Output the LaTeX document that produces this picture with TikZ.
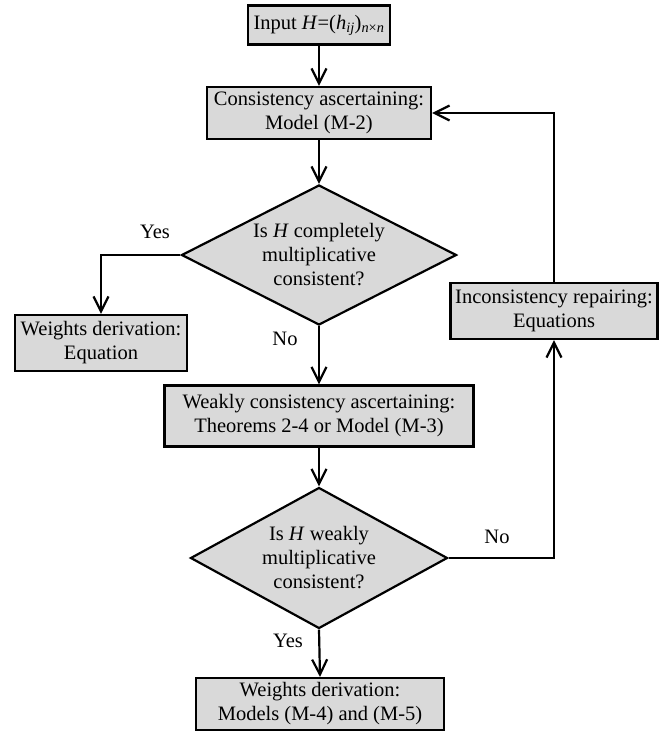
\documentclass[tikz,border=0pt]{standalone}
\usepackage{fontspec}
\setmainfont{Liberation Serif}
\usetikzlibrary{arrows.meta,shapes.geometric}
\definecolor{boxgray}{RGB}{217,217,217}
\begin{document}
\begin{tikzpicture}[%
                    x=1pt,y=-1pt,%
                    every node/.style={font=\fontsize{20.5}{24}\selectfont},%
                    flowbox/.style={draw,line width=2.2pt,fill=boxgray,align=center,inner sep=0pt},%
                    query/.style={draw,line width=2.2pt,fill=boxgray,align=center,diamond,%
                                  shape aspect=2,inner sep=0pt},%
                    flowarrow/.style={line width=2.2pt,-{Straight Barb[length=15pt,width=15pt,line width=2.2pt]}},%
                    link/.style={line width=2.2pt}%
                   ]%
\useasboundingbox (0,0) rectangle (664,731);%
\node[flowbox,minimum width=142,minimum height=39] (input) at (319,25)%
  {Input \textit{H}=(\textit{h}\textsubscript{\textit{ij}})\textsubscript{\textit{n}×\textit{n}}};%
\node[flowbox,minimum width=224,minimum height=52] (cons) at (319,113)%
  {Consistency ascertaining:\\Model (M-2)};%
\node[query,minimum width=275,minimum height=140] (q1) at (319,255)%
  {Is \textit{H} completely\\multiplicative\\consistent?};%
\node[flowbox,minimum width=172,minimum height=56] (wone) at (101,343)%
  {Weights derivation:\\Equation};%
\node[flowbox,minimum width=309,minimum height=61] (weak) at (319,416)%
  {Weakly consistency ascertaining:\\Theorems 2-4 or Model (M-3)};%
\node[query,minimum width=257,minimum height=141] (q2) at (319,558)%
  {Is \textit{H} weakly\\multiplicative\\consistent?};%
\node[flowbox,minimum width=207,minimum height=56] (repair) at (554,311)%
  {Inconsistency repairing:\\Equations};%
\node[flowbox,minimum width=248,minimum height=52] (wtwo) at (320,704)%
  {Weights derivation:\\Models (M-4) and (M-5)};%
\node (yesone) at (155,232) {Yes};%
\node (noone) at (285,339) {No};%
\node (notwo) at (497,537) {No};%
\node (yestwo) at (288,641) {Yes};%
\draw[flowarrow] (input) -- (cons);%
\draw[flowarrow] (cons) -- (q1);%
\draw[flowarrow] (q1.west) -| (wone.north);%
\draw[flowarrow] (q1.south) -- (weak.north);%
\draw[flowarrow] (weak) -- (q2);%
\draw[flowarrow] (q2.south) -- (wtwo.north);%
\draw[flowarrow] (q2.east) -| (repair.south);%
\draw[flowarrow] (repair.north) |- (cons.east);%
\end{tikzpicture}
\end{document}
